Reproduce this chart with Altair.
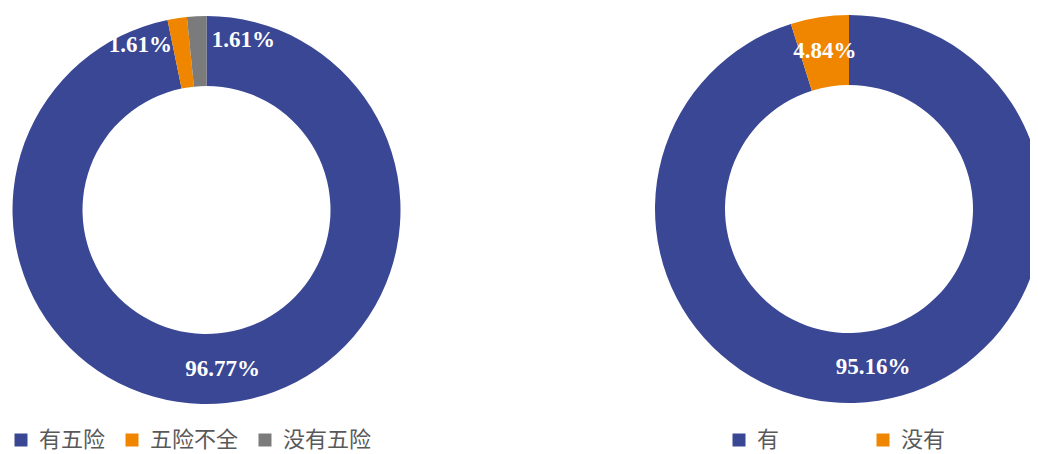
import altair as alt
import pandas as pd

left_categories = ["有五险", "五险不全", "没有五险"]
left_values = [96.77, 1.61, 1.61]
left_labels = ["96.77%", "1.61%", "1.61%"]
left_colors = ["#3A4794", "#F08500", "#7B7B7B"]

right_categories = ["有", "没有"]
right_values = [95.16, 4.84]
right_labels = ["95.16%", "4.84%"]
right_colors = ["#3A4794", "#F08500"]


def donut(cats, vals, labs, colors, cx, cy, legend_x, col_pad, offsets):
    df = pd.DataFrame({"cat": cats, "value": vals, "label": labs,
                       "idx": list(range(len(cats)))})
    base = alt.Chart(df).encode(
        theta=alt.Theta("value:Q", stack=True),
        order=alt.Order("idx:Q"),
        x=alt.value(cx),
        y=alt.value(cy),
    )
    arc = base.mark_arc(outerRadius=194, innerRadius=124).encode(
        color=alt.Color(
            "cat:N",
            scale=alt.Scale(domain=cats, range=colors),
            legend=alt.Legend(
                title=None, orient="none", legendX=legend_x, legendY=421,
                direction="horizontal", symbolType="square", symbolSize=169,
                symbolStrokeWidth=0, symbolOpacity=1,
                labelFont="Noto Sans CJK SC", labelFontSize=22,
                labelColor="#595959", labelOffset=7, columnPadding=col_pad,
            ),
        )
    )
    texts = []
    for i, (dx, dy) in enumerate(offsets):
        texts.append(
            base.mark_text(radius=160, dx=dx, dy=dy, font="Liberation Serif",
                           fontWeight="bold", fontSize=23, color="white").encode(
                text=alt.condition(f"datum.idx == {i}", "label:N", alt.value(""))
            )
        )
    return alt.layer(arc, *texts)


left = donut(left_categories, left_values, left_labels, left_colors,
             198.5, 202, 2, 15, [(0, 0), (-42, -7), (45, -10)])
right = donut(right_categories, right_values, right_labels, right_colors,
              841, 201, 720, 92, [(0, 0), (0, 0)])

chart = alt.layer(left, right).resolve_scale(
    color="independent", theta="independent"
).properties(
    width=1022, height=446, padding=0, autosize="none"
).configure_view(stroke=None)

chart.save("out.html", embed_options={"renderer": "svg", "actions": False})
